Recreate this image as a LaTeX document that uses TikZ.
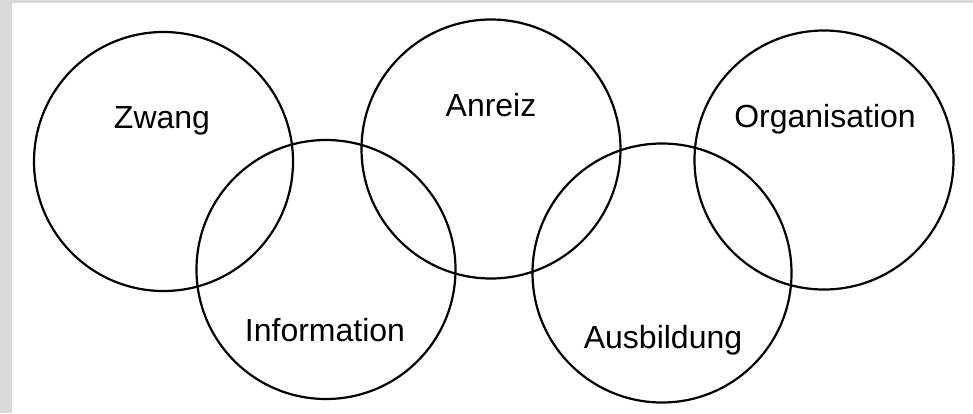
\documentclass[tikz,border=0pt]{standalone}
\usepackage{fontspec}
\setmainfont{Liberation Sans}
\definecolor{framegray}{HTML}{D9D9D9}
\begin{document}
\begin{tikzpicture}[x=1pt,y=-1pt,
  ring/.style={draw=black,line width=2.2pt,circle,minimum size=259pt,inner sep=0pt},
  lbl/.style={anchor=base,inner sep=0pt,font=\fontsize{32}{37}\selectfont}]
\useasboundingbox (0,0) rectangle (973,413);
\fill[white] (0,0) rectangle (973,413);
\fill[framegray] (0,0) rectangle (12,413);
\fill[framegray] (0,0) rectangle (973,3);
\node[ring] (c1) at (163.5,161.5) {};
\node[ring] (c2) at (326,269.5) {};
\node[ring] (c3) at (491,149) {};
\node[ring] (c4) at (662,273) {};
\node[ring] (c5) at (824,160) {};
\node[lbl] (t1) at (162,128) {Zwang};
\node[lbl] (t3) at (491,116) {Anreiz};
\node[lbl] (t5) at (825,127) {Organisation};
\node[lbl] (t2) at (325,341) {Information};
\node[lbl] (t4) at (663,348) {Ausbildung};
\end{tikzpicture}
\end{document}
